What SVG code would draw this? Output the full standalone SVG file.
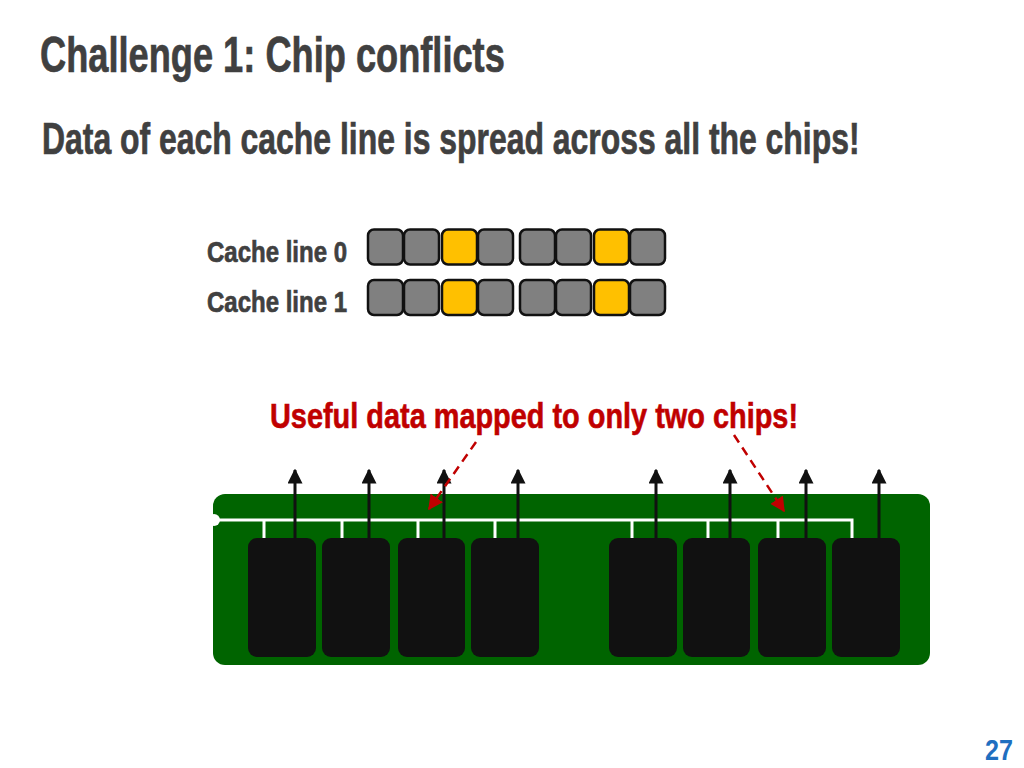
<svg xmlns="http://www.w3.org/2000/svg" width="1024" height="768" viewBox="0 0 1024 768">
<style>
text{font-family:"Liberation Sans","Noto Sans",sans-serif;font-weight:bold}
.h{fill:#404040;stroke:#404040;stroke-width:0.7}
.cell{stroke:#111;stroke-width:2.5}
.g{fill:#808080}
.y{fill:#ffc000}
.chip{fill:#111}
.bus{stroke:#fff;stroke-width:3;fill:none}
.sig{stroke:#111;stroke-width:3;marker-end:url(#ah)}
.hint{stroke:#c00000;stroke-width:2.5;stroke-dasharray:9,6;fill:none;marker-end:url(#rh)}
</style>
<defs>
<marker id="ah" viewBox="0 0 10 10" refX="9" refY="5" markerWidth="5" markerHeight="5" orient="auto" markerUnits="strokeWidth"><path d="M0,0L10,5L0,10z" fill="#111"/></marker>
<marker id="rh" viewBox="0 0 10 10" refX="9" refY="5" markerWidth="6" markerHeight="6" orient="auto" markerUnits="strokeWidth"><path d="M0,0L10,5L0,10z" fill="#c00000"/></marker>
</defs>
<rect width="1024" height="768" fill="#fff"/>
<g id="title"><text class="h" transform="translate(40 72) scale(0.8 1)" x="0" y="0" font-size="50" textLength="581" lengthAdjust="spacingAndGlyphs">Challenge 1: Chip conflicts</text></g>
<g id="subtitle"><text class="h" transform="translate(42 154) scale(0.8 1)" x="0" y="0" font-size="44" textLength="1022" lengthAdjust="spacingAndGlyphs">Data of each cache line is spread across all the chips!</text></g>
<g id="cacheline0">
<text class="h" x="207" y="262" font-size="30" textLength="140" lengthAdjust="spacingAndGlyphs">Cache line 0</text>
<rect class="cell g" x="368" y="229.5" width="35" height="35" rx="6"/>
<rect class="cell g" x="404" y="229.5" width="35" height="35" rx="6"/>
<rect class="cell y" x="442" y="229.5" width="35" height="35" rx="6"/>
<rect class="cell g" x="478" y="229.5" width="35" height="35" rx="6"/>
<rect class="cell g" x="520" y="229.5" width="35" height="35" rx="6"/>
<rect class="cell g" x="556" y="229.5" width="35" height="35" rx="6"/>
<rect class="cell y" x="594" y="229.5" width="35" height="35" rx="6"/>
<rect class="cell g" x="630" y="229.5" width="35" height="35" rx="6"/>
</g>
<g id="cacheline1">
<text class="h" x="207" y="312" font-size="30" textLength="140" lengthAdjust="spacingAndGlyphs">Cache line 1</text>
<rect class="cell g" x="368" y="280" width="35" height="35" rx="6"/>
<rect class="cell g" x="404" y="280" width="35" height="35" rx="6"/>
<rect class="cell y" x="442" y="280" width="35" height="35" rx="6"/>
<rect class="cell g" x="478" y="280" width="35" height="35" rx="6"/>
<rect class="cell g" x="520" y="280" width="35" height="35" rx="6"/>
<rect class="cell g" x="556" y="280" width="35" height="35" rx="6"/>
<rect class="cell y" x="594" y="280" width="35" height="35" rx="6"/>
<rect class="cell g" x="630" y="280" width="35" height="35" rx="6"/>
</g>
<g id="note"><text x="270" y="428" font-size="35" fill="#c00000" stroke="#c00000" stroke-width="0.6" textLength="528" lengthAdjust="spacingAndGlyphs">Useful data mapped to only two chips!</text></g>
<g id="dimm">
<rect x="213" y="494" width="717" height="171" rx="12" fill="#006400"/>
<circle cx="214" cy="520" r="6" fill="#fff"/>
</g>
<g id="chips">
<rect class="chip" x="248" y="538" width="68" height="119" rx="9"/>
<rect class="chip" x="322" y="538" width="68" height="119" rx="9"/>
<rect class="chip" x="398" y="538" width="67" height="119" rx="9"/>
<rect class="chip" x="471" y="538" width="68" height="119" rx="9"/>
<rect class="chip" x="609" y="538" width="68" height="119" rx="9"/>
<rect class="chip" x="683" y="538" width="67" height="119" rx="9"/>
<rect class="chip" x="758" y="538" width="68" height="119" rx="9"/>
<rect class="chip" x="832" y="538" width="68" height="119" rx="9"/>
</g>
<g id="connectors">
<path class="bus" d="M214,520H852V538M264,520V538M342,520V538M418,520V538M495,520V538M632,520V538M708,520V538M778,520V538"/>
<line class="sig" x1="295" y1="538" x2="295" y2="470"/>
<line class="sig" x1="369" y1="538" x2="369" y2="470"/>
<line class="sig" x1="444" y1="538" x2="444" y2="470"/>
<line class="sig" x1="518" y1="538" x2="518" y2="470"/>
<line class="sig" x1="656" y1="538" x2="656" y2="470"/>
<line class="sig" x1="730" y1="538" x2="730" y2="470"/>
<line class="sig" x1="806" y1="538" x2="806" y2="470"/>
<line class="sig" x1="879" y1="538" x2="879" y2="470"/>
<line class="hint" x1="476" y1="442" x2="429" y2="509"/>
<line class="hint" x1="734" y1="435" x2="784" y2="511"/>
</g>
<g id="page"><text x="985" y="760" font-size="30" fill="#1f6fc0" textLength="28" lengthAdjust="spacingAndGlyphs">27</text></g>
</svg>
